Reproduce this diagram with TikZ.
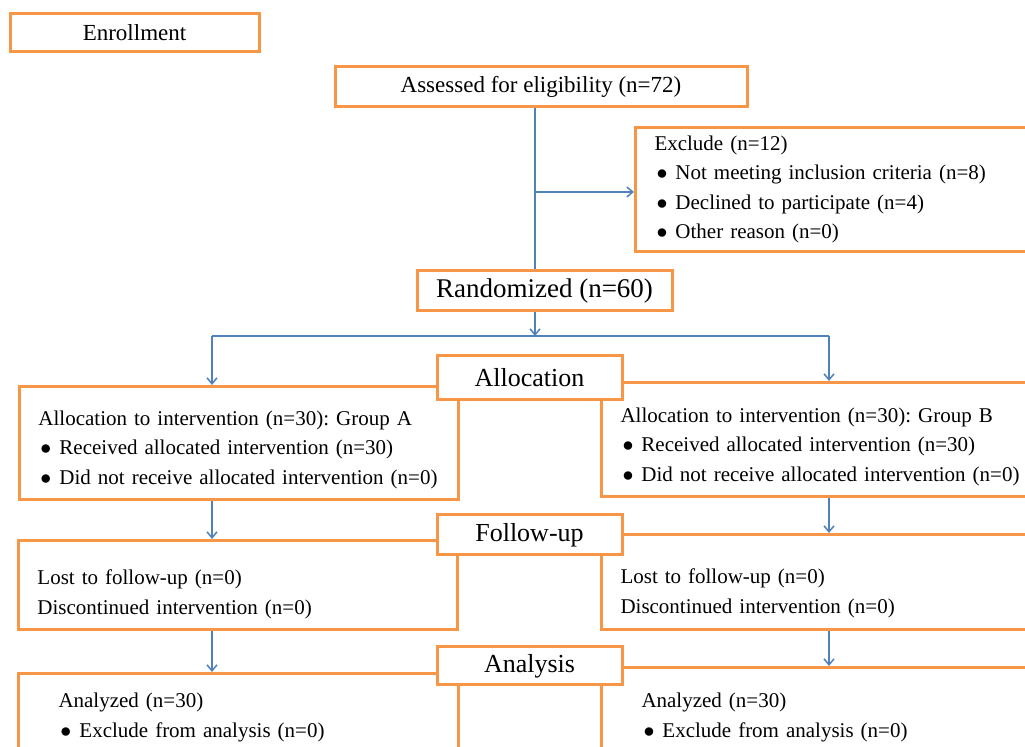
\documentclass[tikz,border=0pt]{standalone}
\usepackage{fontspec}
\setmainfont{Liberation Serif}
\usetikzlibrary{arrows.meta,positioning}
\definecolor{boxorange}{HTML}{F79646}
\definecolor{linkblue}{HTML}{4F81BD}
\frenchspacing
\newcommand{\dotitem}{\hspace*{1pt}$\bullet$\hspace{4pt}}
\newcommand{\toppad}[1]{\rule{0pt}{#1}}
\tikzset{
  stage/.style={draw=boxorange,line width=1.5pt,fill=white,inner sep=0pt,
    font=\fontsize{13}{15}\selectfont},
  infobox/.style={draw=boxorange,line width=1.5pt,fill=white,anchor=north west,
    align=left,inner xsep=9.5pt,inner ysep=0pt,font=\fontsize{10.5}{14.75}\selectfont},
  link/.style={draw=linkblue,line width=0.75pt},
  linkarrow/.style={link,-{Straight Barb[length=3pt,width=5pt]}}
}
\begin{document}
\begin{tikzpicture}[x={(0.5pt,0pt)},y={(0pt,-0.5pt)}]
  \useasboundingbox (0,0) rectangle (1025,747);
  \clip (0,0) rectangle (1025,747);

  % enrollment part
  \node[stage,minimum width=124.5pt,minimum height=19pt,font=\fontsize{11.5}{13}\selectfont] (enroll) at (134.5,33) {Enrollment};
  \node[stage,minimum width=206pt,minimum height=20pt,font=\fontsize{11.5}{13}\selectfont] (assess) at (541,87) {Assessed for eligibility (n=72)};
  \node[infobox,minimum height=62pt,text width=200pt] (exclude) at (634,126)
    {Exclude (n=12)\\
     \dotitem Not meeting inclusion criteria (n=8)\\
     \dotitem Declined to participate (n=4)\\
     \dotitem Other reason (n=0)};
  \node[stage,minimum width=127.5pt,minimum height=20pt,font=\fontsize{13.5}{15}\selectfont] (random) at (544.5,291) {Randomized (n=60)};

  % group boxes
  \node[infobox,minimum height=56.5pt,text width=200.5pt] (grpA) at (18,385)
    {\toppad{14pt}Allocation to intervention (n=30): Group A\\
     \dotitem Received allocated intervention (n=30)\\
     \dotitem Did not receive allocated intervention (n=0)};
  \node[infobox,minimum height=57pt,text width=200.5pt] (grpB) at (600,381)
    {\toppad{14.5pt}Allocation to intervention (n=30): Group B\\
     \dotitem Received allocated intervention (n=30)\\
     \dotitem Did not receive allocated intervention (n=0)};
  \node[infobox,minimum height=44.5pt,text width=200.5pt] (fuA) at (17,539)
    {\toppad{16.5pt}Lost to follow-up (n=0)\\
     Discontinued intervention (n=0)};
  \node[infobox,minimum height=47.5pt,text width=200.5pt] (fuB) at (600,533)
    {\toppad{18.5pt}Lost to follow-up (n=0)\\
     Discontinued intervention (n=0)};
  \node[infobox,minimum height=44pt,inner xsep=20pt,text width=180pt] (anA) at (17,672)
    {Analyzed (n=30)\\
     \dotitem Exclude from analysis (n=0)};
  \node[infobox,minimum height=50pt,inner xsep=20pt,text width=180pt] (anB) at (600,666)
    {Analyzed (n=30)\\
     \dotitem Exclude from analysis (n=0)};

  % stage labels on top
  \node[stage,minimum width=92.5pt,minimum height=22pt] (alloc) at (529.5,378) {Allocation};
  \node[stage,minimum width=92.5pt,minimum height=20pt] (fu) at (529.5,535) {Follow-up};
  \node[stage,minimum width=92.5pt,minimum height=19pt] (an) at (529.5,666) {Analysis};

  % connectors
  \coordinate (trunk) at (535,192);
  \coordinate (split) at (535,336);
  \coordinate (armA) at (212,336);
  \coordinate (armB) at (829,336);
  \draw[link] (assess.south -| trunk) -- (random.north -| trunk);
  \draw[linkarrow] (trunk) -- (trunk -| exclude.west);
  \draw[linkarrow] (random.south -| split) -- (split);
  \draw[link] (armA) -- (armB);
  \draw[linkarrow] (armA) -- (armA |- grpA.north);
  \draw[linkarrow] (armB) -- (armB |- grpB.north);
  \draw[linkarrow] (grpA.south -| armA) -- (armA |- fuA.north);
  \draw[linkarrow] (grpB.south -| armB) -- (armB |- fuB.north);
  \draw[linkarrow] (fuA.south -| armA) -- (armA |- anA.north);
  \draw[linkarrow] (fuB.south -| armB) -- (armB |- anB.north);
\end{tikzpicture}
\end{document}
